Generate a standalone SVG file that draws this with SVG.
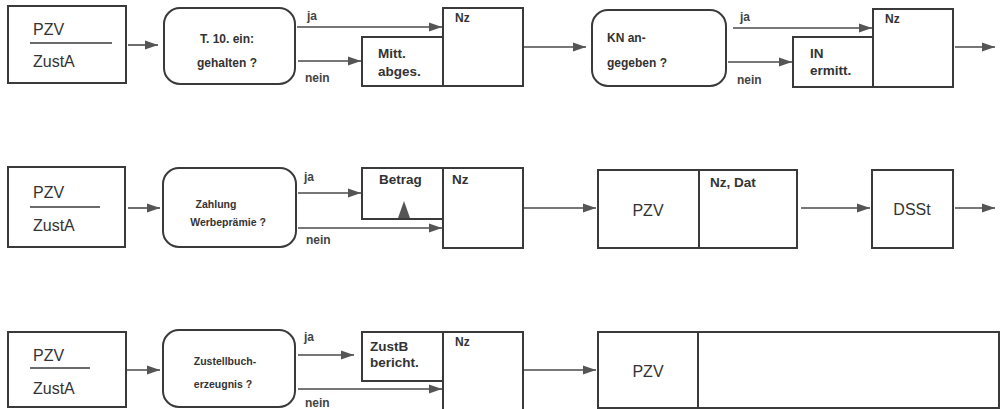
<svg xmlns="http://www.w3.org/2000/svg" width="1007" height="409" viewBox="0 0 1007 409">
<defs>
<marker id="ah" markerUnits="userSpaceOnUse" markerWidth="14" markerHeight="10" refX="13" refY="5" orient="auto">
<path d="M0,0.5 L13,5 L0,9.5 z" fill="#555"/>
</marker>
<style>
.box{fill:none;stroke:#3a3a3a;stroke-width:2}
.con{fill:none;stroke:#4a4a4a;stroke-width:1.6;marker-end:url(#ah)}
.t{font-family:"Liberation Sans",Arial,sans-serif;fill:#333}
.big{font-size:16px}
.mid{font-size:13.5px;font-weight:bold}
.nz{font-size:12px;font-weight:bold}
.sm{font-size:12px;font-weight:bold}
.xs{font-size:10.5px;font-weight:bold}
.lab{font-size:12px;font-weight:bold;fill:#444}
.c{text-anchor:middle}
</style>
</defs>
<rect width="1007" height="409" fill="#fff"/>

<!-- Row 1 -->
<g id="r1-src">
<rect class="box" x="8" y="6" width="118" height="77"/>
<text class="t big" x="33" y="35">PZV</text>
<line x1="30" y1="43" x2="112" y2="43" stroke="#3a3a3a" stroke-width="1.6"/>
<text class="t big" x="33" y="67">ZustA</text>
</g>
<g id="r1-dec1">
<rect class="box" x="164" y="8" width="131" height="76" rx="16"/>
<text class="t sm c" x="227" y="43">T. 10. ein:</text>
<text class="t sm c" x="227" y="67">gehalten ?</text>
</g>
<g id="r1-mitt">
<rect class="box" x="362" y="37" width="81" height="49"/>
<text class="t mid" x="378" y="58">Mitt.</text>
<text class="t mid" x="378" y="76">abges.</text>
</g>
<g id="r1-nz1">
<rect class="box" x="443" y="8" width="80" height="78"/>
<text class="t nz" x="455" y="22">Nz</text>
</g>
<g id="r1-dec2">
<rect class="box" x="592" y="10" width="134" height="76" rx="16"/>
<text class="t sm" x="607" y="42">KN an-</text>
<text class="t sm" x="607" y="67">gegeben ?</text>
</g>
<g id="r1-in">
<rect class="box" x="793" y="37" width="80" height="50"/>
<text class="t mid" x="810" y="58">IN</text>
<text class="t mid" x="810" y="75">ermitt.</text>
</g>
<g id="r1-nz2">
<rect class="box" x="873" y="9" width="80" height="78"/>
<text class="t nz" x="885" y="23">Nz</text>
</g>

<!-- Row 2 -->
<g id="r2-src">
<rect class="box" x="8" y="167" width="117" height="80"/>
<text class="t big" x="33" y="198">PZV</text>
<line x1="30" y1="207" x2="100" y2="207" stroke="#3a3a3a" stroke-width="1.6"/>
<text class="t big" x="33" y="231">ZustA</text>
</g>
<g id="r2-dec">
<rect class="box" x="163" y="168" width="133" height="79" rx="16"/>
<text class="t xs c" x="216" y="208">Zahlung</text>
<text class="t xs c" x="228" y="226">Werbeprämie ?</text>
</g>
<g id="r2-betrag">
<rect class="box" x="362" y="168" width="81" height="51"/>
<text class="t mid" x="379" y="184">Betrag</text>
<path d="M398,218 L404,201 L410,218 z" fill="#555"/>
</g>
<g id="r2-nz">
<rect class="box" x="443" y="168" width="80" height="80"/>
<text class="t mid" x="452" y="184">Nz</text>
</g>
<g id="r2-pzv">
<rect class="box" x="598" y="170" width="199" height="78"/>
<line x1="699" y1="170" x2="699" y2="248" stroke="#3a3a3a" stroke-width="2"/>
<text class="t big c" x="648" y="216">PZV</text>
<text class="t mid" x="710" y="187">Nz, Dat</text>
</g>
<g id="r2-dsst">
<rect class="box" x="872" y="170" width="81" height="78"/>
<text class="t big c" x="912" y="215">DSSt</text>
</g>

<!-- Row 3 -->
<g id="r3-src">
<rect class="box" x="8" y="332" width="118" height="75"/>
<text class="t big" x="33" y="361">PZV</text>
<line x1="30" y1="368" x2="90" y2="368" stroke="#3a3a3a" stroke-width="1.6"/>
<text class="t big" x="33" y="394">ZustA</text>
</g>
<g id="r3-dec">
<rect class="box" x="163" y="330" width="132" height="77" rx="16"/>
<text class="t xs c" x="225" y="365">Zustellbuch-</text>
<text class="t xs c" x="223" y="388">erzeugnis ?</text>
</g>
<g id="r3-zustb">
<rect class="box" x="362" y="332" width="81" height="49"/>
<text class="t mid" x="370" y="351">ZustB</text>
<text class="t mid" x="370" y="367">bericht.</text>
</g>
<g id="r3-nz">
<rect class="box" x="443" y="332" width="80" height="80"/>
<text class="t nz" x="455" y="346">Nz</text>
</g>
<g id="r3-pzv">
<rect class="box" x="598" y="332" width="401" height="76"/>
<line x1="698" y1="332" x2="698" y2="408" stroke="#3a3a3a" stroke-width="2"/>
<text class="t big c" x="648" y="377">PZV</text>
</g>

<!-- Connectors -->
<g id="connectors">
<line class="con" x1="128" y1="45" x2="158" y2="45"/>
<line class="con" x1="297" y1="27" x2="442" y2="27"/>
<line class="con" x1="298" y1="61" x2="361" y2="61"/>
<line class="con" x1="524" y1="47" x2="586" y2="47"/>
<line class="con" x1="733" y1="28" x2="872" y2="28"/>
<line class="con" x1="728" y1="62" x2="792" y2="62"/>
<line class="con" x1="955" y1="47" x2="995" y2="47"/>

<line class="con" x1="128" y1="208" x2="160" y2="208"/>
<line class="con" x1="298" y1="193" x2="361" y2="193"/>
<line class="con" x1="298" y1="228" x2="442" y2="228"/>
<line class="con" x1="524" y1="208" x2="596" y2="208"/>
<line class="con" x1="801" y1="208" x2="870" y2="208"/>
<line class="con" x1="955" y1="208" x2="995" y2="208"/>

<line class="con" x1="127" y1="370" x2="160" y2="370"/>
<line class="con" x1="298" y1="355" x2="354" y2="355"/>
<line class="con" x1="298" y1="389" x2="442" y2="389"/>
<line class="con" x1="524" y1="370" x2="596" y2="370"/>

<text class="t lab" x="307" y="20">ja</text>
<text class="t lab" x="305" y="82">nein</text>
<text class="t lab" x="740" y="21">ja</text>
<text class="t lab" x="737" y="84">nein</text>
<text class="t lab" x="304" y="181">ja</text>
<text class="t lab" x="306" y="244">nein</text>
<text class="t lab" x="304" y="341">ja</text>
<text class="t lab" x="305" y="407">nein</text>
</g>
</svg>
